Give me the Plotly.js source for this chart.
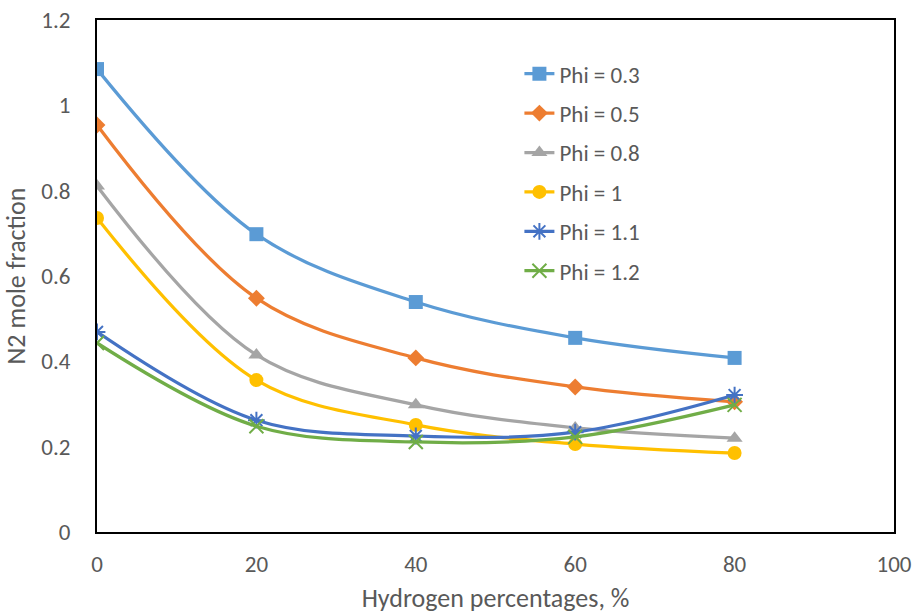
<!DOCTYPE html>
<html><head><meta charset="utf-8">
<script src="https://cdn.plot.ly/plotly-3.0.1.min.js"></script>
<style>body{margin:0;background:#fff}#c{width:913px;height:615px}</style>
</head><body><div id="c"></div>
<script>
const hydrogen = [0, 20, 40, 60, 80];
const phi03 = [1.085, 0.698, 0.539, 0.455, 0.408];
const phi05 = [0.954, 0.548, 0.408, 0.340, 0.305];
const phi08 = [0.811, 0.415, 0.298, 0.244, 0.220];
const phi10 = [0.736, 0.356, 0.251, 0.206, 0.185];
const phi11 = [0.469, 0.262, 0.225, 0.234, 0.321];
const phi12 = [0.443, 0.248, 0.211, 0.223, 0.298];
const names = ['Phi = 0.3','Phi = 0.5','Phi = 0.8','Phi = 1','Phi = 1.1','Phi = 1.2'];
const series = [phi03, phi05, phi08, phi10, phi11, phi12];
const colors = ['#5B9BD5','#ED7D31','#A5A5A5','#FFC000','#4472C4','#70AD47'];
const symbols = ['square','diamond','triangle-up','circle','asterisk-open','x-thin-open'];
const sizes = [14, 13, 14, 14, 14, 14];

const traces = series.map((ys, i) => ({
  x: hydrogen, y: ys, name: names[i], type: 'scatter', mode: 'lines+markers',
  legendgroup: 'g' + i,
  line: {color: colors[i], width: 3.25, shape: 'spline', smoothing: 1},
  marker: {symbol: symbols[i], size: sizes[i], color: colors[i],
           line: {color: colors[i], width: (i >= 4 ? 2 : 0)}}
}));

const fam = 'Carlito, Calibri, "Liberation Sans", sans-serif';
const tickFont = {family: fam, size: 23, color: '#595959'};
const layout = {
  width: 913, height: 615,
  margin: {l: 97, r: 19, t: 20, b: 83},
  paper_bgcolor: '#fff', plot_bgcolor: '#fff',
  showlegend: true,
  legend: {x: 0.53, y: 0.937, xanchor: 'left', yanchor: 'top',
           font: {family: fam, size: 23, color: '#595959'},
           tracegroupgap: 6.5, traceorder: 'grouped', bgcolor: 'rgba(0,0,0,0)'},
  xaxis: {range: [0, 100], dtick: 20, tick0: 0, showgrid: false, zeroline: false,
          showline: true, linecolor: '#000', linewidth: 2, mirror: true,
          ticks: '', ticklabelstandoff: 10, tickfont: tickFont,
          title: {text: 'Hydrogen percentages, %', font: {family: fam, size: 26, color: '#595959'}, standoff: 12}},
  yaxis: {range: [0, 1.2], dtick: 0.2, tick0: 0, showgrid: false, zeroline: false,
          showline: true, linecolor: '#000', linewidth: 2, mirror: true,
          ticks: '', ticklabelstandoff: 20, tickfont: tickFont,
          title: {text: 'N2 mole fraction', font: {family: fam, size: 26, color: '#595959'}, standoff: 12}}
};
Plotly.newPlot('c', traces, layout, {displayModeBar: false});
</script></body></html>
